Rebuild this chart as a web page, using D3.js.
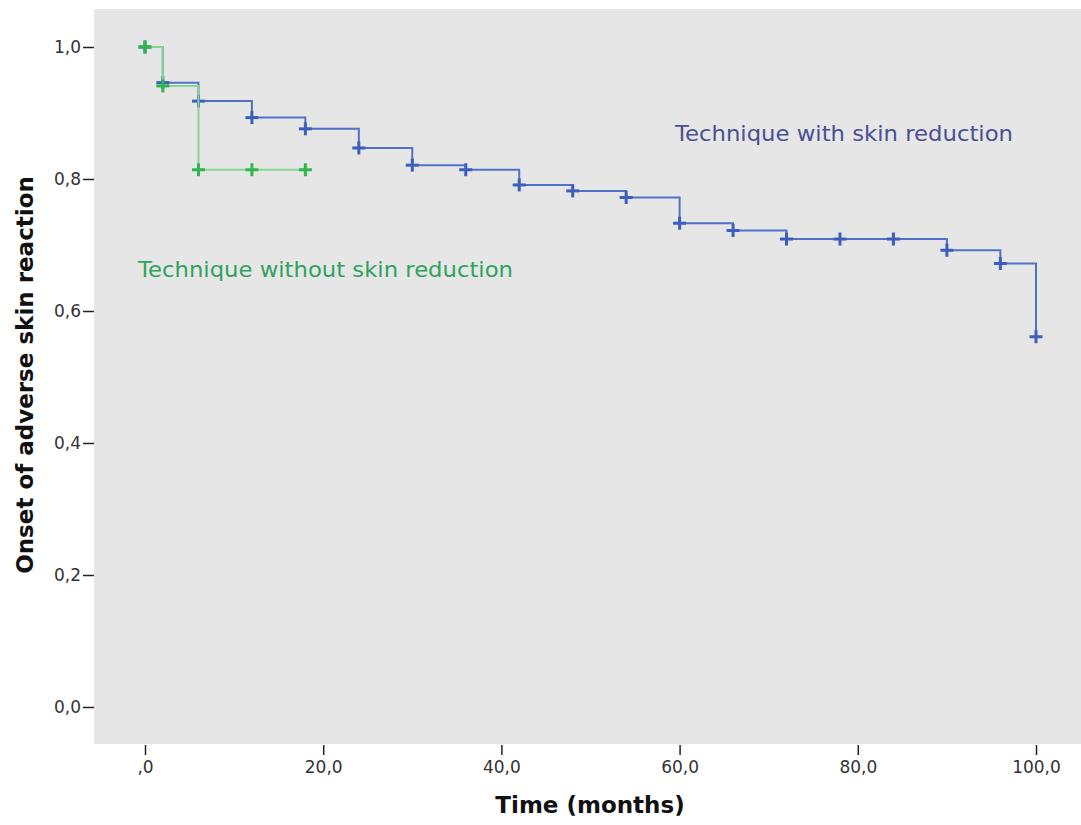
<!DOCTYPE html>
<html lang="en">
<head>
<meta charset="UTF-8">
<title>Kaplan-Meier</title>
<script src="https://d3js.org/d3.v7.min.js"></script>
<style>
  body { margin: 0; background: #fff; }
  text { font-family: "DejaVu Sans", sans-serif; }
</style>
</head>
<body>
<div id="container"></div>
<script>
// survival steps, every point is also a censor mark
const withTimes = [0, 2, 6, 12, 18, 24, 30, 36, 42, 48, 54, 60, 66, 72, 78, 84, 90, 96, 100];
const withSurv  = [1.0, 0.946, 0.918, 0.893, 0.876, 0.847, 0.821, 0.814, 0.791, 0.782, 0.772, 0.733, 0.722, 0.709, 0.709, 0.709, 0.692, 0.672, 0.561];
const withoutTimes = [0, 2, 6, 12, 18];
const withoutSurv  = [1.0, 0.941, 0.814, 0.814, 0.814];

const xTicks = [0, 20, 40, 60, 80, 100];
const yTicks = [0, 0.2, 0.4, 0.6, 0.8, 1.0];

const W = 1081, H = 825;
const plot = {left: 94, top: 9, right: 1081, bottom: 744};

const x = d3.scaleLinear().domain([0, 100]).range([145, 1036]);
const y = d3.scaleLinear().domain([0, 1]).range([707, 47]);

const comma = d => d3.format(".1f")(d).replace(".", ",");

const svg = d3.select("#container").append("svg").attr("width", W).attr("height", H);

svg.append("rect")
  .attr("x", plot.left).attr("y", plot.top)
  .attr("width", plot.right - plot.left).attr("height", plot.bottom - plot.top)
  .attr("fill", "#e6e6e6");

// y axis
const yAxis = svg.append("g").attr("transform", `translate(${plot.left},0)`)
  .call(d3.axisLeft(y).tickValues(yTicks).tickSize(11).tickPadding(2).tickFormat(comma));
yAxis.select(".domain").remove();
yAxis.selectAll("line").attr("stroke", "#222").attr("stroke-width", 1.5);
yAxis.selectAll("text").attr("font-size", 17).attr("fill", "#333");

// x axis
const xAxis = svg.append("g").attr("transform", `translate(0,${plot.bottom + 1})`)
  .call(d3.axisBottom(x).tickValues(xTicks).tickSize(10).tickPadding(6)
    .tickFormat(d => d === 0 ? ",0" : comma(d)));
xAxis.select(".domain").remove();
xAxis.selectAll("line").attr("stroke", "#222").attr("stroke-width", 1.5);
xAxis.selectAll("text").attr("font-size", 17).attr("fill", "#333");

svg.append("text")
  .attr("x", 590).attr("y", 813)
  .attr("text-anchor", "middle").attr("font-size", 23).attr("font-weight", "bold")
  .attr("fill", "#111").text("Time (months)");

svg.append("text")
  .attr("transform", "translate(33,375) rotate(-90)")
  .attr("text-anchor", "middle").attr("font-size", 23).attr("font-weight", "bold")
  .attr("fill", "#111").text("Onset of adverse skin reaction");

function drawCurve(times, surv, lineColor, markColor) {
  const pts = times.map((t, i) => [t, surv[i]]);
  const path = d3.line().x(d => x(d[0])).y(d => y(d[1])).curve(d3.curveStepAfter);
  svg.append("path").datum(pts)
    .attr("d", path).attr("fill", "none")
    .attr("stroke", lineColor).attr("stroke-width", 2);
  const marks = svg.append("g").selectAll("g").data(pts).enter().append("g")
    .attr("transform", d => `translate(${x(d[0])},${y(d[1])})`);
  marks.append("line").attr("x1", -6.5).attr("x2", 6.5).attr("stroke", markColor).attr("stroke-width", 3);
  marks.append("line").attr("y1", -6.5).attr("y2", 6.5).attr("stroke", markColor).attr("stroke-width", 3);
}

drawCurve(withTimes, withSurv, "#4f72c8", "#3c5fbe");
drawCurve(withoutTimes, withoutSurv, "#86d592", "#2fb84a");

svg.append("text").attr("x", 675).attr("y", 141)
  .attr("font-size", 21).attr("fill", "#4b4f96")
  .attr("textLength", 338).attr("lengthAdjust", "spacingAndGlyphs")
  .text("Technique with skin reduction");
svg.append("text").attr("x", 138).attr("y", 277)
  .attr("font-size", 21).attr("fill", "#2ea35e")
  .attr("textLength", 375).attr("lengthAdjust", "spacingAndGlyphs")
  .text("Technique without skin reduction");
</script>
</body>
</html>
